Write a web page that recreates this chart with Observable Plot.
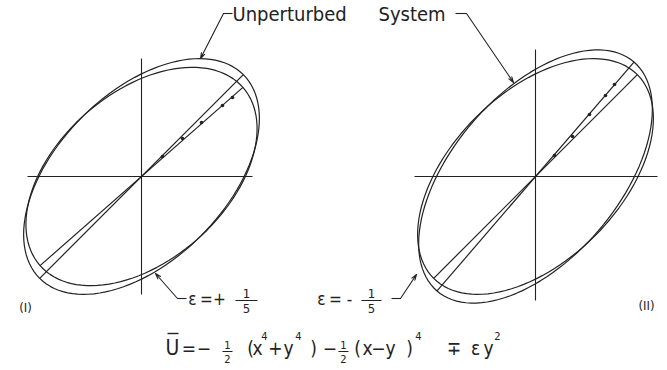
<!DOCTYPE html>
<html>
<head>
<meta charset="utf-8">
<script src="https://cdn.jsdelivr.net/npm/d3@7"></script>
<script src="https://cdn.jsdelivr.net/npm/@observablehq/plot@0.6"></script>
<style>
  html, body { margin: 0; padding: 0; background: #fff; }
  #chart svg { display: block; }
</style>
</head>
<body>
<div id="chart"></div>
<script>
// ---------------- data ----------------
const panels = ["I", "II"];

// coordinate axes of each panel (extent of the drawn cross)
const axisPanel = ["I", "II"];
const axisXMin = [-114, -121];
const axisXMax = [111, 122];
const axisYMin = [-118, -124];
const axisYMax = [118, 127];

// orbits (closed curves): orientation, semi-major, semi-minor
const orbitPanel = ["I", "I", "II", "II"];
const orbitLabel = ["unperturbed", "ε = +1/5", "unperturbed", "ε = −1/5"];
const orbitAngle = [45, 41.3, 45, 49.3];
const orbitSemiMajor = [144, 135, 144, 151];
const orbitSemiMinor = [84, 84, 84, 83];

// computed points along the perturbed normal mode
const dotPanel = ["I", "I", "I", "I", "I", "II", "II", "II", "II", "II"];
const dotX = [21, 41, 60, 81, 91, 19, 37, 54, 70, 79];
const dotY = [20, 38, 54, 71, 79, 21, 40, 62, 81, 92];

// formula glyphs:  U = − 1/2 (x^4 + y^4) − 1/2 (x − y)^4 ∓ ε y^2
const formulaGlyph = ["U", "=", "−", "(", "x", "4", "+", "y", "4", ")", "−", "(", "x", "−", "y", ")", "4", "∓", "ε", "y", "2"];
const formulaGlyphX = [31, 47.5, 62.5, 109, 116, 123, 134, 147, 157, 172, 188.5, 216, 226, 237, 249, 268, 277, 312.5, 334, 347, 356];
const formulaIsSup = [0, 0, 0, 0, 0, 1, 0, 0, 1, 0, 0, 0, 0, 0, 0, 0, 1, 0, 0, 0, 1];

// ---------------- derived tables ----------------
const ink = "#222";
const font = "'DejaVu Sans Condensed','Liberation Sans Narrow','DejaVu Sans',sans-serif";
const H = 370;

const axes = axisPanel.map((p, i) => ({panel: p, x1: axisXMin[i], x2: axisXMax[i], y1: axisYMin[i], y2: axisYMax[i]}));

const orbitPoints = orbitPanel.flatMap((p, i) => {
  const th = orbitAngle[i] * Math.PI / 180;
  return d3.range(0, 360, 3).map(deg => {
    const t = deg * Math.PI / 180;
    const u = orbitSemiMajor[i] * Math.cos(t), v = orbitSemiMinor[i] * Math.sin(t);
    return {panel: p, id: i, label: orbitLabel[i], x: u * Math.cos(th) - v * Math.sin(th), y: u * Math.sin(th) + v * Math.cos(th)};
  });
});

const modes = orbitPanel.map((p, i) => {
  const th = orbitAngle[i] * Math.PI / 180, a = orbitSemiMajor[i];
  return {panel: p, x1: -a * Math.cos(th), y1: -a * Math.sin(th), x2: a * Math.cos(th), y2: a * Math.sin(th)};
});

const dots = dotPanel.map((p, i) => ({panel: p, x: dotX[i], y: dotY[i]}));

// annotation texts
const labels = [
  {panel: "I", text: "Unperturbed", x: 91, y: 162, size: 20, anchor: "start"},
  {panel: "II", text: "System", x: -157, y: 162, size: 20, anchor: "start"},
  {panel: "I", text: "(I)", x: -116, y: -131, size: 13, anchor: "middle"},
  {panel: "II", text: "(II)", x: 111, y: -129, size: 13, anchor: "middle"},
  {panel: "I", text: "ε", x: 51, y: -123, size: 17, anchor: "middle"},
  {panel: "I", text: "=", x: 65, y: -123, size: 17, anchor: "middle"},
  {panel: "I", text: "+", x: 78, y: -123, size: 17, anchor: "middle"},
  {panel: "II", text: "ε", x: -214, y: -123, size: 17, anchor: "middle"},
  {panel: "II", text: "=", x: -200, y: -123, size: 17, anchor: "middle"},
  {panel: "II", text: "-", x: -186, y: -123, size: 17, anchor: "middle"},
  ...formulaGlyph.map((g, i) => ({
    panel: "I", text: g, x: formulaGlyphX[i],
    y: formulaIsSup[i] ? -160 : -172,
    size: formulaIsSup[i] ? 11 : (g === "U" ? 21 : 19),
    anchor: "middle"
  }))
];

// stacked fractions
const fractions = [
  {panel: "I", x: 105, y: -124, num: "1", den: "5", half: 11, size: 13, up: 6.5, down: 8.5},
  {panel: "II", x: -164, y: -124, num: "1", den: "5", half: 10, size: 13, up: 6.5, down: 8.5},
  {panel: "I", x: 86, y: -175, num: "1", den: "2", half: 5, size: 11, up: 6, down: 8},
  {panel: "I", x: 202, y: -175, num: "1", den: "2", half: 5, size: 11, up: 6, down: 8}
];

// overbar of U
const overbars = [{panel: "I", x1: 26, x2: 37, y: -157}];

// leader lines: short stub + arrow to the curve
const leaders = [
  {panel: "I", sx: 91, sy: 163, x1: 82, y1: 163, x2: 59, y2: 118},
  {panel: "II", sx: -80, sy: 163, x1: -69, y1: 163, x2: -22, y2: 94},
  {panel: "I", sx: 45, sy: -122, x1: 36, y1: -122, x2: 14, y2: -97},
  {panel: "II", sx: -144, sy: -122, x1: -135, y1: -122, x2: -119, y2: -98}
];

const chart = Plot.plot({
  width: 667,
  height: H,
  marginLeft: 11,
  marginRight: 2,
  marginTop: 0,
  marginBottom: 0,
  fx: {domain: panels, axis: null, paddingInner: 1 - 260 / 394, paddingOuter: 0},
  x: {domain: [-130, 130], axis: null},
  y: {domain: [176 - H, 176], axis: null},
  style: {background: "#fff", color: ink, fontFamily: font},
  marks: [
    Plot.link(axes, {fx: "panel", x1: "x1", x2: "x2", y1: () => 0, y2: () => 0, stroke: ink, strokeWidth: 1.1}),
    Plot.link(axes, {fx: "panel", x1: () => 0, x2: () => 0, y1: "y1", y2: "y2", stroke: ink, strokeWidth: 1.1}),
    Plot.line(orbitPoints, {fx: "panel", x: "x", y: "y", z: "id", curve: "linear-closed", stroke: ink, strokeWidth: 1.2}),
    Plot.link(modes, {fx: "panel", x1: "x1", y1: "y1", x2: "x2", y2: "y2", stroke: ink, strokeWidth: 1.2}),
    Plot.dot(dots, {fx: "panel", x: "x", y: "y", r: 1.8, fill: ink, stroke: null}),
    Plot.link(leaders, {fx: "panel", x1: "sx", y1: "sy", x2: "x1", y2: "y1", stroke: ink, strokeWidth: 1.1}),
    Plot.arrow(leaders, {fx: "panel", x1: "x1", y1: "y1", x2: "x2", y2: "y2", stroke: ink, strokeWidth: 1.1, headLength: 8, headAngle: 35}),
    Plot.link(overbars, {fx: "panel", x1: "x1", x2: "x2", y1: "y", y2: "y", stroke: ink, strokeWidth: 1.4}),
    Plot.link(fractions, {fx: "panel", x1: d => d.x - d.half, x2: d => d.x + d.half, y1: "y", y2: "y", stroke: ink, strokeWidth: 1}),
    Plot.text(fractions, {fx: "panel", x: "x", y: d => d.y + d.up, text: "num", fontSize: d => d.size, fill: ink}),
    Plot.text(fractions, {fx: "panel", x: "x", y: d => d.y - d.down, text: "den", fontSize: d => d.size, fill: ink}),
    ...["start", "middle"].map(anchor =>
      Plot.text(labels.filter(d => d.anchor === anchor), {fx: "panel", x: "x", y: "y", text: "text", fontSize: "size", textAnchor: anchor, fill: ink}))
  ]
});
document.getElementById("chart").appendChild(chart);
</script>
</body>
</html>
